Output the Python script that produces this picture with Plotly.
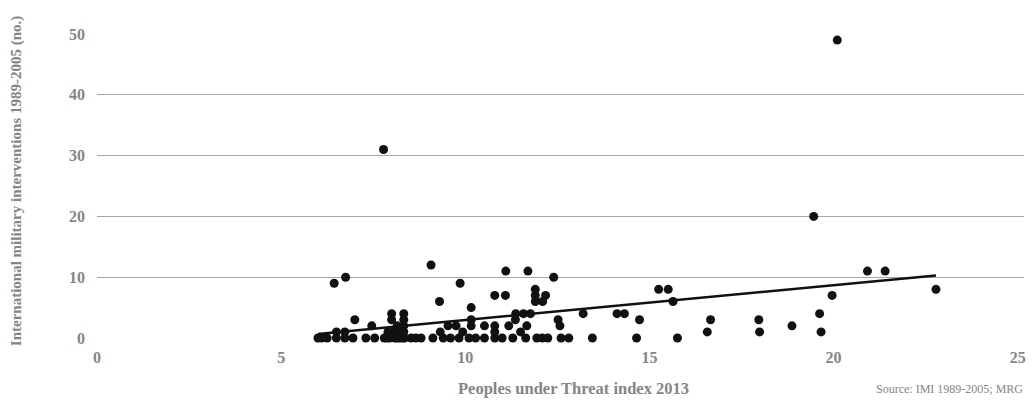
import numpy as np
import plotly.graph_objects as go

# Peoples under Threat index 2013 (x) vs international military interventions 1989-2005 (y)
put_index = [
    # y = 0
    6.0, 6.1, 6.25, 6.5, 6.73, 6.95, 7.3, 7.54, 7.8, 7.94, 8.09, 8.22, 8.35, 8.53, 8.66, 8.8,
    9.12, 9.4, 9.6, 9.83, 10.1, 10.28, 10.52, 10.8, 11.0, 11.29, 11.64, 11.94, 12.09, 12.24,
    12.6, 12.81, 13.45, 14.65, 15.76, 7.87, 8.15, 8.3,
    # y = 1
    6.5, 6.73, 7.9, 8.05, 8.2, 8.33, 9.32, 9.93, 10.8, 11.5, 16.57, 17.99, 19.66,
    # y = 2
    7.46, 8.15, 8.33, 9.53, 9.75, 10.16, 10.52, 10.8, 11.18, 11.67, 12.57, 18.87,
    # y = 3
    7.0, 8.0, 8.33, 10.16, 11.36, 12.52, 14.73, 16.66, 17.97,
    # y = 4
    8.0, 8.33, 11.37, 11.58, 11.77, 13.2, 14.12, 14.32, 19.62,
    # y = 5..12
    10.16,
    9.3, 11.9, 12.1, 15.64,
    10.8, 11.09, 11.9, 12.18, 19.96,
    11.9, 15.25, 15.51, 22.78,
    6.44, 9.86,
    6.75, 12.4,
    11.1, 11.7, 20.92, 21.4,
    9.07,
    # outliers
    19.46, 7.78, 20.1,
]
interventions = (
    [0] * 38
    + [1] * 13
    + [2] * 12
    + [3] * 9
    + [4] * 9
    + [5]
    + [6] * 4
    + [7] * 5
    + [8] * 4
    + [9] * 2
    + [10] * 2
    + [11] * 4
    + [12]
    + [20, 31, 49]
)

x_ticks = [0, 5, 10, 15, 20, 25]
y_ticks = [0, 10, 20, 30, 40, 50]

x_title = "Peoples under Threat index 2013"
y_title = "International military interventions 1989-2005 (no.)"
source = "Source: IMI 1989-2005; MRG"

xs = np.array(put_index, dtype=float)
ys = np.array(interventions, dtype=float)
slope, intercept = np.polyfit(xs, ys, 1)
tx = np.array([xs.min(), xs.max()])
ty = slope * tx + intercept

GREY = "#858585"
FONT = "Liberation Serif"

fig = go.Figure()
fig.add_trace(go.Scatter(
    x=xs, y=ys, mode="markers",
    marker=dict(size=9, color="#111111"),
    cliponaxis=False, showlegend=False,
))
fig.add_trace(go.Scatter(
    x=tx, y=ty, mode="lines",
    line=dict(color="#111111", width=2.5),
    cliponaxis=False, showlegend=False,
))

PW, PH = 929, 304  # plot area size in px

fig.update_layout(
    width=1033, height=404,
    margin=dict(l=97, r=7, t=34, b=66),
    plot_bgcolor="white", paper_bgcolor="white",
    font=dict(family=FONT, color=GREY),
    hovermode=False,
    xaxis=dict(
        range=[0, 25.17], tickvals=x_ticks, showgrid=False, zeroline=False,
        showline=False, ticks="", ticklabelstandoff=8,
        tickfont=dict(family=FONT, size=16, color=GREY, weight="bold"),
    ),
    yaxis=dict(
        range=[0, 50], tickvals=y_ticks, showgrid=True, gridcolor="#a6a6a6",
        gridwidth=1.3, zeroline=False, showline=False, ticks="",
        ticklabelstandoff=11,
        tickfont=dict(family=FONT, size=16, color=GREY, weight="bold"),
    ),
    annotations=[
        dict(text=x_title, xref="paper", yref="paper", x=478 / PW, y=-51 / PH,
             xanchor="center", yanchor="middle", showarrow=False,
             font=dict(family=FONT, size=16.5, color=GREY, weight="bold")),
        dict(text=y_title, xref="paper", yref="paper", x=-81 / PW, y=157 / PH,
             xanchor="center", yanchor="middle", showarrow=False, textangle=-90,
             font=dict(family=FONT, size=15, color=GREY, weight="bold")),
        dict(text=source, xref="paper", yref="paper", x=930 / PW, y=-51 / PH,
             xanchor="right", yanchor="middle", showarrow=False,
             font=dict(family=FONT, size=12, color=GREY)),
    ],
)

fig.write_html(
    "out.html",
    config={"displayModeBar": False},
    post_script="document.body.style.margin='0px';",
)
